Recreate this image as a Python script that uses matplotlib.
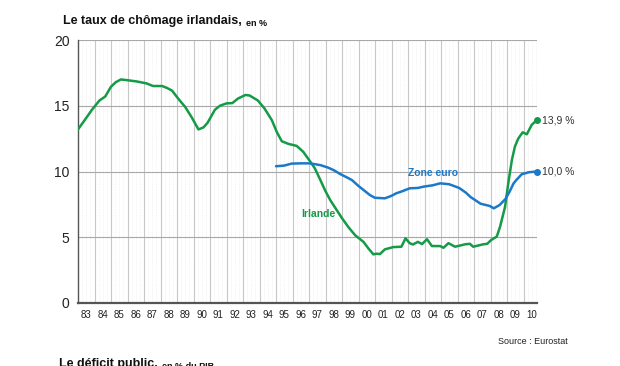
import matplotlib
matplotlib.use("Agg")
import matplotlib.pyplot as plt
import numpy as np

plt.rcParams['font.family'] = ['Liberation Sans', 'DejaVu Sans']

# Ireland unemployment rate (%), decimal year
ireland_t = [1983.0, 1983.4, 1983.85, 1984.3, 1984.65, 1985.0, 1985.3, 1985.6, 1985.95,
             1986.55, 1987.15, 1987.55, 1988.1, 1988.4, 1988.7, 1989.1, 1989.5, 1989.9,
             1990.3, 1990.6, 1990.85, 1991.3, 1991.6, 1992.0, 1992.35, 1992.7, 1993.15,
             1993.4, 1993.9, 1994.3, 1994.75, 1995.05, 1995.35, 1995.75, 1996.25, 1996.65,
             1997.05, 1997.35, 1997.67, 1998.0, 1998.3, 1999.0, 1999.4, 1999.8, 2000.3,
             2000.6, 2000.9, 2001.1, 2001.3, 2001.6, 2002.1, 2002.6, 2002.85, 2003.1,
             2003.3, 2003.6, 2003.85, 2004.15, 2004.45, 2004.95, 2005.15, 2005.45,
             2005.85, 2006.45, 2006.75, 2006.95, 2007.55, 2007.8, 2008.05, 2008.38,
             2008.58, 2008.88, 2009.1, 2009.3, 2009.48, 2009.68, 2009.95, 2010.2,
             2010.5, 2010.8]
ireland_v = [13.2, 13.9, 14.7, 15.4, 15.7, 16.45, 16.8, 17.0, 16.95,
             16.85, 16.7, 16.5, 16.5, 16.35, 16.15, 15.5, 14.9, 14.1,
             13.2, 13.35, 13.7, 14.7, 15.0, 15.18, 15.2, 15.55, 15.82,
             15.78, 15.4, 14.8, 13.9, 13.0, 12.3, 12.1, 11.95, 11.5,
             10.8, 10.25, 9.4, 8.5, 7.8, 6.45, 5.75, 5.15, 4.65,
             4.15, 3.7, 3.75, 3.72, 4.08, 4.25, 4.28, 4.92, 4.55,
             4.45, 4.65, 4.48, 4.85, 4.33, 4.33, 4.2, 4.55,
             4.28, 4.46, 4.5, 4.28, 4.46, 4.5, 4.8, 5.05,
             5.8, 7.3, 9.3, 10.9, 11.9, 12.5, 12.98, 12.83,
             13.55, 13.9]

# Euro area unemployment rate (%)
euro_t = [1995.0, 1995.5, 1995.95, 1996.5, 1997.0, 1997.4, 1997.7, 1998.15, 1998.5,
          1998.9, 1999.3, 1999.6, 2000.0, 2000.3, 2000.7, 2001.0, 2001.6, 2002.0,
          2002.3, 2002.55, 2003.1, 2003.6, 2003.95, 2004.5, 2004.95, 2005.5, 2006.1,
          2006.5, 2006.8, 2007.4, 2007.95, 2008.2, 2008.55, 2008.9, 2009.15, 2009.4,
          2009.6, 2009.9, 2010.1, 2010.3, 2010.8]
euro_v = [10.4, 10.45, 10.6, 10.62, 10.62, 10.55, 10.48, 10.3, 10.1,
          9.8, 9.55, 9.35, 8.9, 8.6, 8.2, 8.0, 7.96, 8.15,
          8.35, 8.45, 8.72, 8.75, 8.85, 8.95, 9.1, 9.03, 8.75,
          8.4, 8.05, 7.55, 7.38, 7.2, 7.45, 7.9, 8.45, 9.1,
          9.4, 9.8, 9.86, 9.94, 10.0]

year_labels = ['83', '84', '85', '86', '87', '88', '89', '90', '91', '92', '93', '94',
               '95', '96', '97', '98', '99', '00', '01', '02', '03', '04', '05', '06',
               '07', '08', '09', '10']
y_ticks = [0, 5, 10, 15, 20]
end_labels = ['13,9 %', '10,0 %']

green = '#159a48'
blue = '#1c78c8'

fig = plt.figure(figsize=(6.2, 3.66), dpi=100)
ax = fig.add_axes([78/620, 1-303/366, (537-78)/620, (303-40)/366])

x0 = 1983.0
x1 = x0 + (537 - 78) / 16.5
ax.set_xlim(x0, x1)
ax.set_ylim(0, 20)

# grid
for i in range(len(year_labels)):
    yr = x0 + i
    if i > 0:
        ax.axvline(yr, color='#c8c8c8', lw=0.8, zorder=1)
    for q in (0.25, 0.5, 0.75):
        if yr + q < x1:
            ax.axvline(yr + q, color='#e6e6e6', lw=0.5, ls=(0, (1, 2)), zorder=0)
for yv in y_ticks[1:]:
    ax.axhline(yv, color='#a8a8a8', lw=0.8, zorder=1)

ax.plot(ireland_t, ireland_v, color=green, lw=1.8, zorder=3, solid_capstyle='round')
ax.plot(euro_t, euro_v, color=blue, lw=1.8, zorder=3, solid_capstyle='round')
ax.plot([ireland_t[-1]], [ireland_v[-1]], 'o', color=green, ms=4, zorder=4, clip_on=False)
ax.plot([euro_t[-1]], [euro_v[-1]], 'o', color=blue, ms=4, zorder=4, clip_on=False)

ax.annotate(end_labels[0], (ireland_t[-1], ireland_v[-1]), xytext=(4, 0),
            textcoords='offset points', va='center', ha='left', fontsize=7.5, color='#333333',
            annotation_clip=False)
ax.annotate(end_labels[1], (euro_t[-1], euro_v[-1]), xytext=(4, 0),
            textcoords='offset points', va='center', ha='left', fontsize=7.5, color='#333333',
            annotation_clip=False)

ax.text(1996.5, 6.8, 'Irlande', color=green, fontsize=7.5, fontweight='bold', va='center')
ax.text(2003.0, 9.85, 'Zone euro', color=blue, fontsize=7.5, fontweight='bold', va='center')

# axes styling
for s in ('top', 'right'):
    ax.spines[s].set_visible(False)
ax.spines['left'].set_color('#555555')
ax.spines['left'].set_linewidth(1.0)
ax.spines['bottom'].set_color('#555555')
ax.spines['bottom'].set_linewidth(1.6)

ax.set_yticks(y_ticks)
ax.set_yticklabels([str(v) for v in y_ticks], fontsize=10, color='#222222')
ax.tick_params(axis='y', length=0, pad=6)
ax.set_xticks([x0 + i + 0.5 for i in range(len(year_labels))])
ax.set_xticklabels(year_labels, fontsize=7, color='#222222')
ax.tick_params(axis='x', length=0, pad=5)

renderer = fig.canvas.get_renderer()


def title_pair(xpx, ypx, main, sub, va):
    t = fig.text(xpx/620, 1-ypx/366, main, fontsize=9, fontweight='bold',
                 va=va, ha='left', color='#111111')
    bb = t.get_window_extent(renderer=renderer)
    fig.text((bb.x1 + 4)/620, bb.y0/366 + 0.004, sub, fontsize=6.5, fontweight='bold',
             va='baseline', ha='left', color='#111111')


title_pair(63, 21, 'Le taux de chômage irlandais,', 'en %', 'center')
fig.text(568/620, 1-341/366, 'Source : Eurostat', fontsize=6.5, va='center', ha='right',
         color='#222222')
# next chart's title, cut off by the bottom edge as in the reference
title_pair(59, 358, 'Le déficit public,', 'en % du PIB', 'top')

fig.savefig('out.png', dpi=100)
